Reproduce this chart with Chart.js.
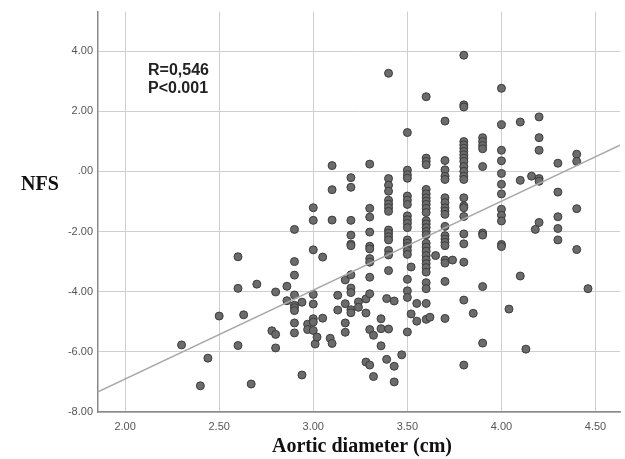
<!DOCTYPE html>
<html>
<head>
<meta charset="utf-8">
<script src="https://cdn.jsdelivr.net/npm/chart.js@4.4.1/dist/chart.umd.min.js"></script>
<style>
  html, body { margin: 0; padding: 0; background: #fff; }
</style>
</head>
<body>
<canvas id="nfs-chart" width="625" height="459"></canvas>
<script>
// aortic diameter columns (cm) and the NFS values measured at each one
const diameterCols = [
  2.30, 2.40, 2.44, 2.50, 2.60, 2.63, 2.67, 2.70, 2.78, 2.80, 2.86, 2.90, 2.94, 2.97,
  3.00, 3.01, 3.02, 3.05, 3.09, 3.10, 3.13, 3.17, 3.20, 3.24, 3.28, 3.30, 3.32, 3.36,
  3.39, 3.40, 3.43, 3.47, 3.50, 3.52, 3.55, 3.60, 3.62, 3.65, 3.70, 3.74, 3.80, 3.85,
  3.90, 4.00, 4.04, 4.10, 4.13, 4.16, 4.18, 4.20, 4.30, 4.40, 4.46
];
const nfsCols = [
  [-5.77], [-7.13], [-6.21], [-4.81], [-2.84, -3.89, -5.79], [-4.77], [-7.07], [-3.75], [-5.30],
  [-4.01, -5.42, -5.87], [-3.82, -4.30],
  [-1.93, -3.00, -3.45, -4.11, -4.45, -4.53, -4.63, -5.04, -5.37],
  [-4.35, -6.77], [-5.08, -5.26],
  [-1.21, -1.63, -2.61, -4.09, -4.41, -4.90, -5.01, -5.29],
  [-5.74], [-5.51], [-2.85, -4.88], [-5.55], [0.19, -0.61, -1.62, -5.72], [-4.12, -4.61],
  [-3.61, -4.40, -5.04, -5.35],
  [-0.21, -0.53, -1.63, -2.12, -2.42, -2.47, -3.44, -3.88, -4.03, -4.60, -4.70],
  [-4.34, -4.52], [-4.24, -4.71, -6.34],
  [0.24, -1.23, -1.52, -2.02, -2.49, -2.58, -2.90, -3.02, -3.52, -4.07, -5.26, -6.44],
  [-5.45, -6.82], [-4.90, -5.23, -5.80], [-4.23, -6.25],
  [3.26, -0.24, -0.46, -0.66, -0.96, -1.09, -1.21, -1.33, -1.95, -2.06, -2.17, -2.28, -2.63, -2.78, -3.30, -5.24],
  [-4.31, -6.48, -7.00], [-6.10],
  [1.29, 0.04, -0.11, -0.23, -0.82, -0.96, -1.10, -1.48, -1.61, -1.73, -1.87, -2.28, -2.39, -2.50, -2.63, -2.76, -3.59, -3.97, -4.19, -5.34],
  [-3.18, -4.74], [-4.39, -4.98],
  [2.48, 0.44, 0.33, 0.22, -0.60, -0.75, -0.88, -0.99, -1.10, -1.23, -1.37, -1.64, -1.75, -1.87, -2.00, -2.11, -2.39, -2.52, -2.65, -2.80, -2.94, -3.07, -3.20, -3.35, -3.70, -3.90, -4.39, -4.92],
  [-4.85], [-2.80],
  [1.67, 0.36, 0.05, -0.16, -0.27, -0.88, -1.04, -1.21, -1.32, -1.43, -1.83, -2.14, -2.25, -2.36, -2.47, -2.95, -3.05, -3.66, -4.89],
  [-2.95],
  [3.86, 2.21, 2.14, 0.99, 0.88, 0.77, 0.66, 0.55, 0.44, 0.33, 0.16, 0.00, -0.16, -0.27, -0.88, -1.15, -1.21, -1.50, -2.08, -2.41, -3.02, -4.28, -6.44],
  [-4.72],
  [1.12, 0.99, 0.86, 0.75, 0.16, -2.05, -2.12, -3.83, -5.71],
  [2.76, 1.55, 0.70, 0.35, -0.07, -0.43, -0.75, -1.26, -1.46, -1.65, -2.43, -2.50],
  [-4.58], [1.64, -0.30, -3.48], [-5.91], [-0.16], [-1.93],
  [1.81, 1.12, 0.70, -0.24, -0.33, -1.70],
  [0.27, -0.69, -1.51, -1.90, -2.28],
  [0.57, 0.33, -1.24, -2.60],
  [-3.90]
];

// fit line, read at the two edges of the plot
const fitX = [1.856, 4.63];
const fitY = [-7.33, 0.87];

const xTicks = [2.0, 2.5, 3.0, 3.5, 4.0, 4.5];
const yTicks = [-8, -6, -4, -2, 0, 2, 4];

const statLines = ["R=0,546", "P<0.001"];
const xTitle = "Aortic diameter (cm)";
const yTitle = "NFS";

const points = [];
diameterCols.forEach((d, i) => {
  nfsCols[i].forEach(v => points.push({ x: d, y: v }));
});

const textPlugin = {
  id: "texts",
  afterDraw(chart) {
    const ctx = chart.ctx;
    ctx.save();
    ctx.fillStyle = "#111";
    ctx.font = 'bold 20px "Liberation Serif"';
    ctx.textAlign = "center";
    ctx.textBaseline = "middle";
    ctx.fillText(yTitle, 40, 185);
    ctx.fillText(xTitle, 362, 447);

    ctx.fillStyle = "#222";
    ctx.font = 'bold 16px "Liberation Sans"';
    ctx.textAlign = "left";
    ctx.textBaseline = "alphabetic";
    ctx.fillText(statLines[0], 148, 75);
    ctx.fillText(statLines[1], 148, 93);
    ctx.restore();
  }
};

const fmt = v => (v === 0 ? ".00" : v.toFixed(2));

new Chart(document.getElementById("nfs-chart"), {
  type: "scatter",
  data: {
    datasets: [
      {
        type: "line",
        data: fitX.map((x, i) => ({ x, y: fitY[i] })),
        borderColor: "#a8a8a8",
        borderWidth: 1.5,
        pointRadius: 0,
        fill: false,
        order: 0
      },
      {
        data: points,
        backgroundColor: "#6b6b6b",
        borderColor: "#3c3c3c",
        borderWidth: 1,
        pointRadius: 4,
        order: 1
      }
    ]
  },
  options: {
    responsive: false,
    animation: false,
    layout: { padding: { top: 9, left: 0, right: 0, bottom: 0 } },
    plugins: { legend: { display: false }, tooltip: { enabled: false } },
    scales: {
      x: {
        type: "linear",
        min: 1.856,
        max: 4.63,
        afterBuildTicks: s => { s.ticks = xTicks.map(v => ({ value: v })); },
        afterFit: s => { s.height = 47; },
        grid: { color: "#cfcfcf", lineWidth: 1, drawTicks: false },
        border: { color: "#8a8a8a", width: 1.5 },
        ticks: {
          callback: v => fmt(v),
          color: "#555",
          font: { family: "Liberation Sans", size: 11 },
          padding: 8,
          maxRotation: 0
        }
      },
      y: {
        type: "linear",
        min: -8,
        max: 5.31,
        afterBuildTicks: s => { s.ticks = yTicks.map(v => ({ value: v })); },
        afterFit: s => { s.width = 98; },
        grid: { color: "#cfcfcf", lineWidth: 1, drawTicks: false },
        border: { color: "#8a8a8a", width: 1.5 },
        ticks: {
          callback: v => fmt(v),
          color: "#555",
          font: { family: "Liberation Sans", size: 11 },
          padding: 5
        }
      }
    }
  },
  plugins: [textPlugin]
});
</script>
</body>
</html>
